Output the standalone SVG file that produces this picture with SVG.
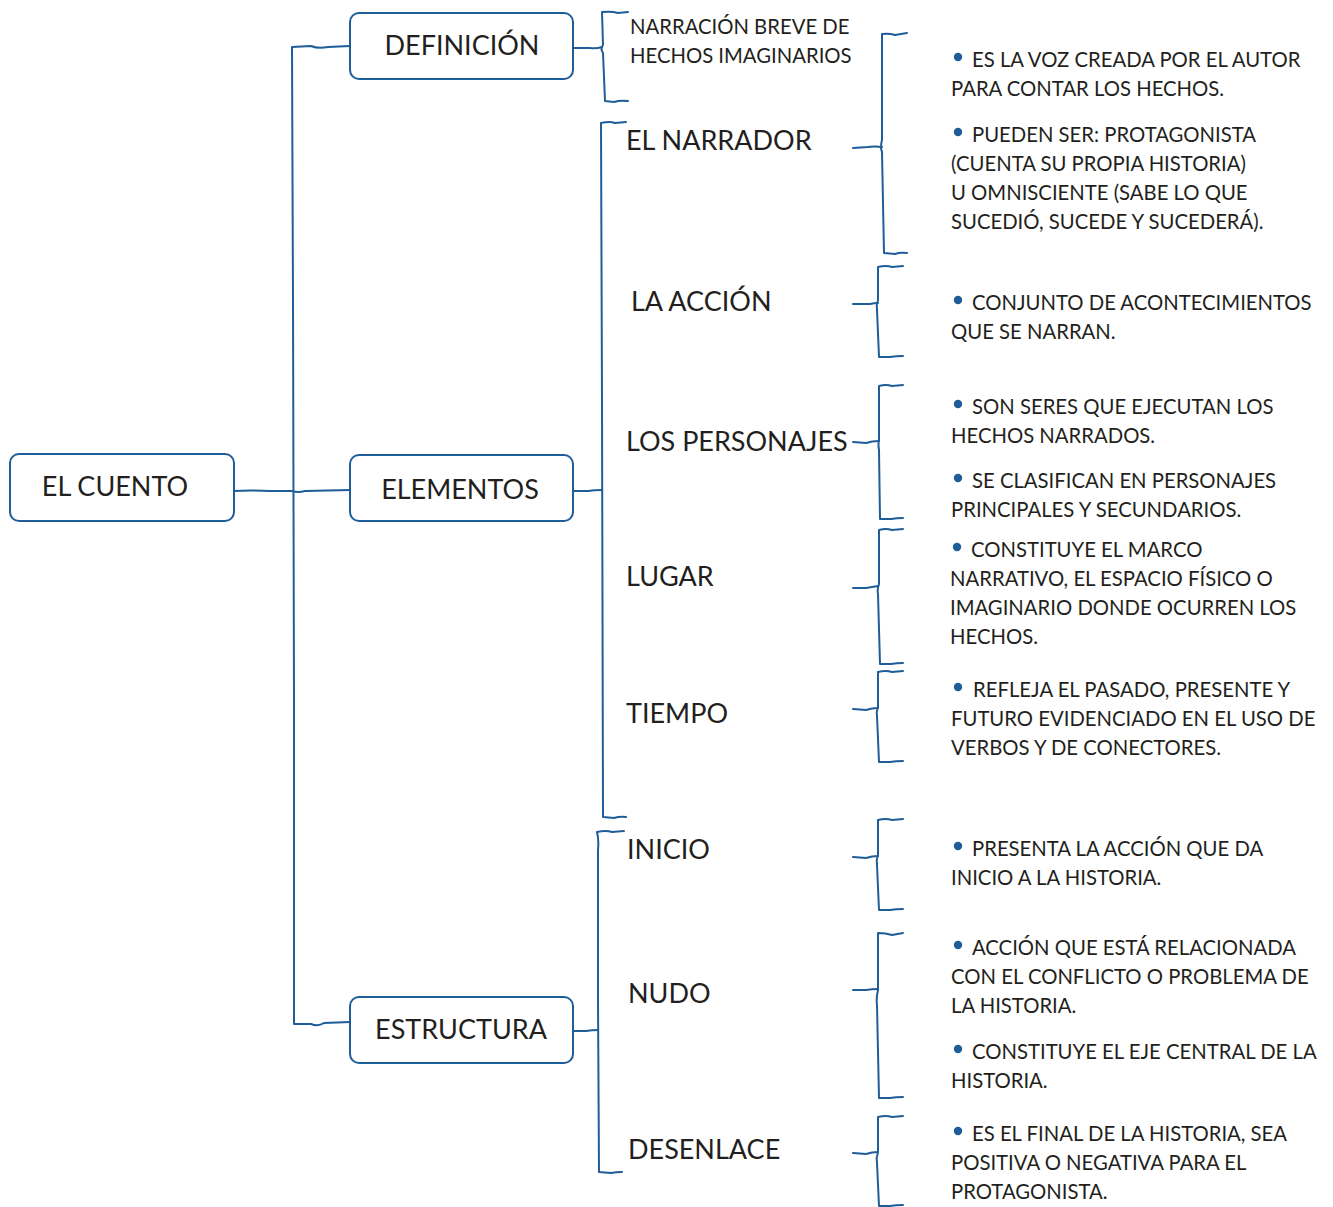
<svg xmlns="http://www.w3.org/2000/svg" width="1333" height="1207" viewBox="0 0 1333 1207">
<style>
.ln{fill:none;stroke:#1f5d99;stroke-width:2;stroke-linecap:round;stroke-linejoin:round}
.box{fill:#fff;stroke:#1f5d99;stroke-width:2}
.t{font-family:Lato,"Open Sans","Liberation Sans",sans-serif;fill:#231f20}
.big{font-size:27px}
.sm{font-size:20.3px}
.dot{fill:#1f5d99}
</style>
<rect width="1333" height="1207" fill="#fff"/>
<g id="connectors">
<path class="ln" d="M350 46 L328 47 Q318 49 311 46 L292 47 L293 300 L294 700 L294 1024 L311 1024 Q318 1027 324 1023 L350 1022"/>
<path class="ln" d="M234 491 Q250 490 270 491 L292 491 Q298 493 305 491 L350 490"/>
<path class="ln" d="M573 48 L590 48 Q596 49 602 47"/>
<path class="ln" d="M628 12 L618 13 Q612 11 602 12 L603 45 Q600 49 603 53 L605 101 L614 102 Q620 100 628 101"/>
<path class="ln" d="M573 491 L588 491 Q594 490 602 490"/>
<path class="ln" d="M626 122 L615 123 Q610 121 601 123 L602 400 L603 817 L614 818 Q620 816 626 817"/>
<path class="ln" d="M573 1031 L586 1031 Q592 1030 598 1030"/>
<path class="ln" d="M624 831 L612 832 Q606 830 597 832 Q599 840 598 850 L598 1000 L599 1172 L611 1173 Q616 1172 622 1172"/>
<path class="ln" d="M907 33 L895 35 Q889 33 882 34 L882 140 Q880 147 882 152 L884 253 L895 254 Q900 252 907 253"/>
<path class="ln" d="M853 148 L868 147 Q874 146 882 147"/>
<path class="ln" d="M903 266 L892 267 Q886 265 878 267 L878 300 Q876 305 877 310 L879 357 L890 357 Q896 356 903 356"/>
<path class="ln" d="M853 304 L870 304 Q874 303 878 303"/>
<path class="ln" d="M903 385 L892 386 Q886 384 879 386 L879 440 Q878 445 879 450 L880 519 L891 519 Q897 518 903 518"/>
<path class="ln" d="M853 442 L866 443 Q872 441 879 441"/>
<path class="ln" d="M903 529 L892 530 Q886 528 879 530 L879 584 Q877 590 878 594 L880 664 L891 664 Q897 663 903 663"/>
<path class="ln" d="M853 588 L866 588 Q872 587 878 586"/>
<path class="ln" d="M903 671 L892 672 Q886 670 878 672 L878 707 Q876 712 877 716 L879 762 L890 762 Q896 761 903 761"/>
<path class="ln" d="M853 709 L866 710 Q872 708 878 708"/>
<path class="ln" d="M903 819 L892 820 Q886 818 878 820 L878 855 Q876 860 877 865 L879 910 L890 910 Q896 909 903 909"/>
<path class="ln" d="M853 857 L866 858 Q872 856 878 856"/>
<path class="ln" d="M903 933 L892 935 Q886 933 878 933 L878 990 Q876 998 877 1005 L879 1098 L890 1098 Q896 1097 903 1097"/>
<path class="ln" d="M853 990 L866 990 Q872 989 878 989"/>
<path class="ln" d="M903 1116 L892 1117 Q886 1115 878 1117 L878 1152 Q876 1158 877 1163 L879 1206 L890 1206 Q896 1205 903 1205"/>
<path class="ln" d="M853 1153 L866 1154 Q872 1152 878 1152"/>
</g>
<g id="el-cuento"><rect class="box" x="10" y="454" width="224" height="67" rx="9"/><text class="t big" x="115" y="496" text-anchor="middle">EL CUENTO</text></g>
<g id="definicion"><rect class="box" x="350" y="13" width="223" height="66" rx="9"/><text class="t big" x="462" y="55" text-anchor="middle">DEFINICIÓN</text></g>
<g id="elementos"><rect class="box" x="350" y="455" width="223" height="66" rx="9"/><text class="t big" x="460" y="499" text-anchor="middle">ELEMENTOS</text></g>
<g id="estructura"><rect class="box" x="350" y="997" width="223" height="66" rx="9"/><text class="t big" x="461" y="1039" text-anchor="middle">ESTRUCTURA</text></g>
<g id="definicion-text"><text class="t sm" x="630" y="34">NARRACIÓN BREVE DE</text><text class="t sm" x="630" y="63">HECHOS IMAGINARIOS</text></g>
<g id="el-narrador"><text class="t big" x="626" y="150">EL NARRADOR</text></g>
<g id="la-accion"><text class="t big" x="631" y="311">LA ACCIÓN</text></g>
<g id="los-personajes"><text class="t big" x="626" y="451">LOS PERSONAJES</text></g>
<g id="lugar"><text class="t big" x="626" y="586">LUGAR</text></g>
<g id="tiempo"><text class="t big" x="626" y="723">TIEMPO</text></g>
<g id="inicio"><text class="t big" x="627" y="859">INICIO</text></g>
<g id="nudo"><text class="t big" x="628" y="1003">NUDO</text></g>
<g id="desenlace"><text class="t big" x="628" y="1159">DESENLACE</text></g>
<g id="narrador-desc">
<circle class="dot" cx="958" cy="57" r="4.2"/><text class="t sm" x="972" y="67">ES LA VOZ CREADA POR EL AUTOR</text>
<text class="t sm" x="951" y="96">PARA CONTAR LOS HECHOS.</text>
<circle class="dot" cx="958" cy="132" r="4.2"/><text class="t sm" x="972" y="142">PUEDEN SER: PROTAGONISTA</text>
<text class="t sm" x="951" y="171">(CUENTA SU PROPIA HISTORIA)</text>
<text class="t sm" x="951" y="200">U OMNISCIENTE (SABE LO QUE</text>
<text class="t sm" x="951" y="229">SUCEDIÓ, SUCEDE Y SUCEDERÁ).</text>
</g>
<g id="accion-desc">
<circle class="dot" cx="958" cy="300" r="4.2"/><text class="t sm" x="972" y="310">CONJUNTO DE ACONTECIMIENTOS</text>
<text class="t sm" x="951" y="339">QUE SE NARRAN.</text>
</g>
<g id="personajes-desc">
<circle class="dot" cx="958" cy="404" r="4.2"/><text class="t sm" x="972" y="414">SON SERES QUE EJECUTAN LOS</text>
<text class="t sm" x="951" y="443">HECHOS NARRADOS.</text>
<circle class="dot" cx="958" cy="478" r="4.2"/><text class="t sm" x="972" y="488">SE CLASIFICAN EN PERSONAJES</text>
<text class="t sm" x="951" y="517">PRINCIPALES Y SECUNDARIOS.</text>
</g>
<g id="lugar-desc">
<circle class="dot" cx="957" cy="547" r="4.2"/><text class="t sm" x="971" y="557">CONSTITUYE EL MARCO</text>
<text class="t sm" x="950" y="586">NARRATIVO, EL ESPACIO FÍSICO O</text>
<text class="t sm" x="950" y="615">IMAGINARIO DONDE OCURREN LOS</text>
<text class="t sm" x="950" y="644">HECHOS.</text>
</g>
<g id="tiempo-desc">
<circle class="dot" cx="958" cy="687" r="4.2"/><text class="t sm" x="973" y="697">REFLEJA EL PASADO, PRESENTE Y</text>
<text class="t sm" x="951" y="726">FUTURO EVIDENCIADO EN EL USO DE</text>
<text class="t sm" x="951" y="755">VERBOS Y DE CONECTORES.</text>
</g>
<g id="inicio-desc">
<circle class="dot" cx="958" cy="846" r="4.2"/><text class="t sm" x="972" y="856">PRESENTA LA ACCIÓN QUE DA</text>
<text class="t sm" x="951" y="885">INICIO A LA HISTORIA.</text>
</g>
<g id="nudo-desc">
<circle class="dot" cx="958" cy="945" r="4.2"/><text class="t sm" x="972" y="955">ACCIÓN QUE ESTÁ RELACIONADA</text>
<text class="t sm" x="951" y="984">CON EL CONFLICTO O PROBLEMA DE</text>
<text class="t sm" x="951" y="1013">LA HISTORIA.</text>
<circle class="dot" cx="958" cy="1049" r="4.2"/><text class="t sm" x="972" y="1059">CONSTITUYE EL EJE CENTRAL DE LA</text>
<text class="t sm" x="951" y="1088">HISTORIA.</text>
</g>
<g id="desenlace-desc">
<circle class="dot" cx="958" cy="1131" r="4.2"/><text class="t sm" x="972" y="1141">ES EL FINAL DE LA HISTORIA, SEA</text>
<text class="t sm" x="951" y="1170">POSITIVA O NEGATIVA PARA EL</text>
<text class="t sm" x="951" y="1199">PROTAGONISTA.</text>
</g>
</svg>
